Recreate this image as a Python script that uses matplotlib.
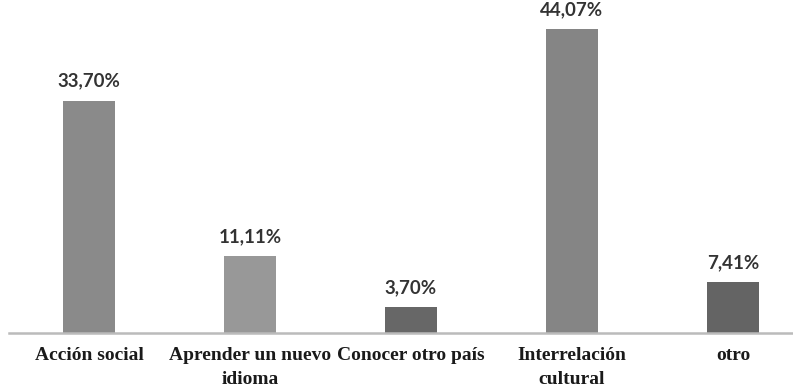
import numpy as np
import matplotlib.pyplot as plt

# data
categories = ['Acción social', 'Aprender un nuevo\nidioma', 'Conocer otro país',
              'Interrelación\ncultural', 'otro']
values = [33.70, 11.11, 3.70, 44.07, 7.41]
value_labels = ['33,70%', '11,11%', '3,70%', '44,07%', '7,41%']
bar_colors = ['#8a8a8a', '#989898', '#676767', '#858585', '#646464']

fig = plt.figure(figsize=(7.93, 3.84), dpi=100)
# baseline at y=333 px, axis line runs off the right edge in the original
ax = fig.add_axes([8.5 / 793, (384 - 333) / 384, 1 - 8.5 / 793, 333 / 384])

x = np.arange(len(categories))
ax.bar(x, values, width=0.32, color=bar_colors, zorder=2)

for xi, v, lab in zip(x, values, value_labels):
    ax.annotate(lab, (xi, v), xytext=(0, 8), textcoords='offset points',
                ha='center', va='bottom', fontsize=13.5, fontweight='bold',
                family='Lato', color='#333333')

ax.set_xlim(-0.5, (793 - 8.5) / 161 - 0.5)
ax.set_ylim(0, 44.07 * 333 / 304)

for s in ['top', 'right', 'left']:
    ax.spines[s].set_visible(False)
ax.spines['bottom'].set_color('#bbbbbb')
ax.spines['bottom'].set_linewidth(1.8)
ax.set_yticks([])
ax.set_xticks(x)
ax.set_xticklabels(categories)
for t in ax.get_xticklabels():
    t.set_fontfamily('Liberation Serif')
    t.set_fontsize(14)
    t.set_fontweight('bold')
    t.set_color('#1a1a1a')
    t.set_linespacing(1.55)
ax.tick_params(axis='x', length=0, pad=10)

fig.savefig('out.png', dpi=100)
